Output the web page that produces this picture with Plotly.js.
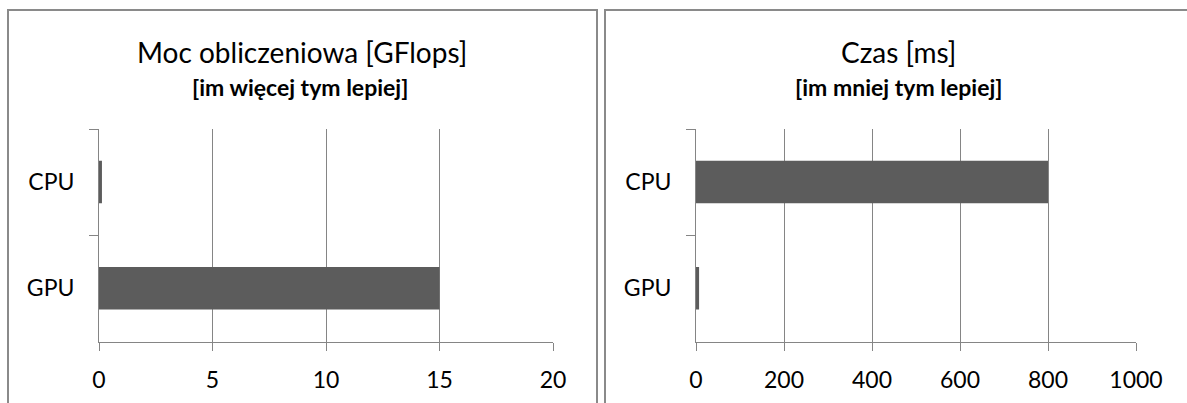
<!DOCTYPE html>
<html>
<head>
<meta charset="utf-8">
<script src="https://cdn.plot.ly/plotly-3.0.1.min.js"></script>
<style>html,body{margin:0;padding:0;background:#fff;}#chart{width:1187px;height:403px;}</style>
</head>
<body>
<div id="chart"></div>
<script>
// Data
const categories = ['GPU', 'CPU'];          // bottom to top
const gflops = [15, 0.13];                  // Moc obliczeniowa [GFlops]
const timeMs = [7, 800];                    // Czas [ms]
const gflopsTicks = [0, 5, 10, 15, 20];
const timeTicks = [0, 200, 400, 600, 800, 1000];
const titles = ['Moc obliczeniowa [GFlops]', 'Czas [ms]'];
const subtitles = ['[im więcej tym lepiej]', '[im mniej tym lepiej]'];

const W = 1187, H = 403;
const px = v => v / W;
const py = v => 1 - v / H;

const barColor = '#5c5c5c';
const gridColor = '#858585';
const tickFont = {family: 'Lato, sans-serif', size: 23, color: '#000'};

const traces = [
  {type: 'bar', orientation: 'h', y: categories, x: gflops, xaxis: 'x', yaxis: 'y',
   width: 0.4, marker: {color: barColor, line: {width: 0}}, hoverinfo: 'skip'},
  {type: 'bar', orientation: 'h', y: categories, x: timeMs, xaxis: 'x2', yaxis: 'y2',
   width: 0.4, marker: {color: barColor, line: {width: 0}}, hoverinfo: 'skip'}
];

function xAxis(domain, ticks, anchor) {
  return {
    domain: domain, anchor: anchor, range: [ticks[0], ticks[ticks.length - 1]],
    tickmode: 'array', tickvals: ticks, ticktext: ticks.map(String),
    showgrid: true, gridcolor: gridColor, gridwidth: 1,
    showline: true, linecolor: gridColor, linewidth: 1,
    ticks: 'outside', ticklen: 8, tickcolor: gridColor, tickwidth: 1,
    zeroline: false, tickfont: tickFont, ticklabelstandoff: 10, fixedrange: true
  };
}
function yAxis(domain, anchor) {
  return {
    domain: domain, anchor: anchor, type: 'category', categoryorder: 'array',
    categoryarray: categories, range: [-0.5, 1.5], tickson: 'boundaries',
    ticks: 'outside', ticklen: 9, tickcolor: gridColor, tickwidth: 1,
    showline: true, linecolor: gridColor, linewidth: 1, showgrid: false,
    zeroline: false, tickfont: tickFont, ticklabelstandoff: 19, fixedrange: true
  };
}

const yDom = [py(341.5), py(129)];
const titleFont = {family: 'Lato, sans-serif', size: 28, color: '#000'};
const subFont = {family: 'Lato, sans-serif', size: 23, color: '#000'};
const layout = {
  width: W, height: H, margin: {l: 0, r: 0, t: 0, b: 0},
  paper_bgcolor: '#fff', plot_bgcolor: '#fff', showlegend: false,
  xaxis: xAxis([px(99), px(553)], gflopsTicks, 'y'),
  yaxis: yAxis(yDom, 'x'),
  xaxis2: xAxis([px(696), px(1136)], timeTicks, 'y2'),
  yaxis2: yAxis(yDom, 'x2'),
  shapes: [
    {type: 'rect', xref: 'paper', yref: 'paper', x0: px(8), x1: px(597), y0: -0.2, y1: py(10),
     line: {color: '#8a8a8a', width: 2}, fillcolor: 'rgba(0,0,0,0)'},
    {type: 'rect', xref: 'paper', yref: 'paper', x0: px(605), x1: 1.05, y0: -0.2, y1: py(10),
     line: {color: '#8a8a8a', width: 2}, fillcolor: 'rgba(0,0,0,0)'}
  ],
  annotations: [
    {xref: 'paper', yref: 'paper', x: px(302), y: py(52), xanchor: 'center', yanchor: 'middle',
     text: titles[0], showarrow: false, font: titleFont},
    {xref: 'paper', yref: 'paper', x: px(300), y: py(87), xanchor: 'center', yanchor: 'middle',
     text: '<b>' + subtitles[0] + '</b>', showarrow: false, font: subFont},
    {xref: 'paper', yref: 'paper', x: px(898), y: py(52), xanchor: 'center', yanchor: 'middle',
     text: titles[1], showarrow: false, font: titleFont},
    {xref: 'paper', yref: 'paper', x: px(898), y: py(87), xanchor: 'center', yanchor: 'middle',
     text: '<b>' + subtitles[1] + '</b>', showarrow: false, font: subFont}
  ]
};

Plotly.newPlot('chart', traces, layout, {displayModeBar: false, staticPlot: true});
</script>
</body>
</html>
